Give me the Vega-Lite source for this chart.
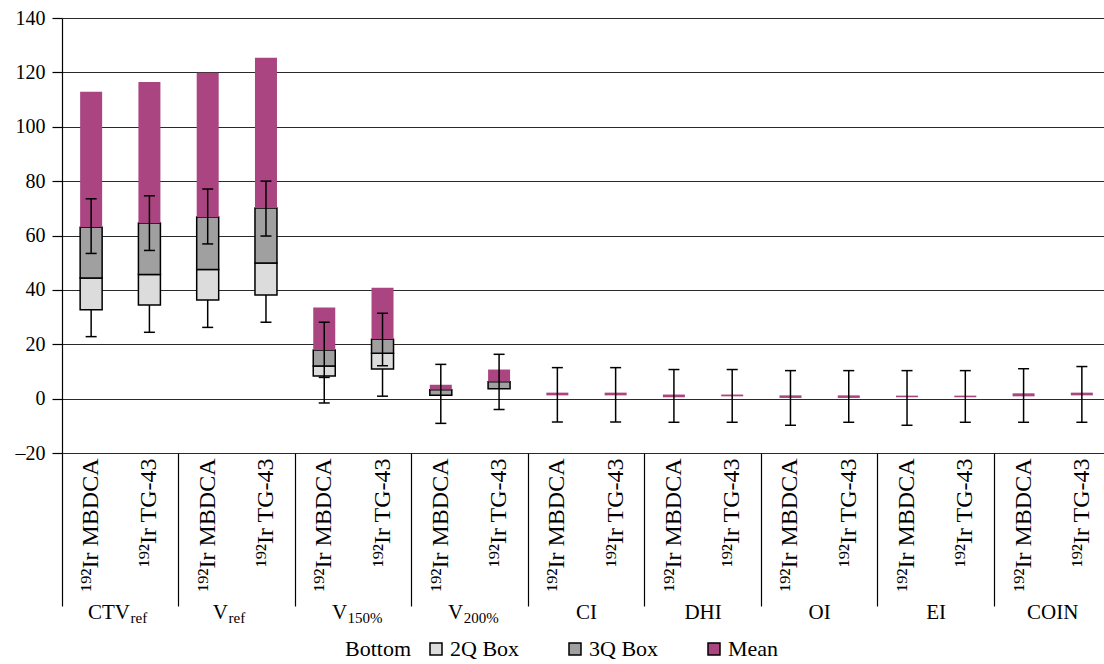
{
  "$schema": "https://vega.github.io/schema/vega-lite/v6.json",
  "autosize": {"type": "none"},
  "width": 1049,
  "height": 435,
  "padding": {"left": 62, "top": 18, "right": -7, "bottom": 211},
  "background": "white",
  "config": {
    "view": {"stroke": null}
  },
  "datasets": {
    "bars": [
      {"bar": "CTVref MBDCA", "series": "2Q Box", "lo": 32.7, "hi": 44.4},
      {"bar": "CTVref MBDCA", "series": "3Q Box", "lo": 44.4, "hi": 63.0},
      {"bar": "CTVref MBDCA", "series": "Mean", "lo": 63.0, "hi": 112.9},
      {"bar": "CTVref TG-43", "series": "2Q Box", "lo": 34.4, "hi": 45.7},
      {"bar": "CTVref TG-43", "series": "3Q Box", "lo": 45.7, "hi": 64.6},
      {"bar": "CTVref TG-43", "series": "Mean", "lo": 64.6, "hi": 116.5},
      {"bar": "Vref MBDCA", "series": "2Q Box", "lo": 36.3, "hi": 47.5},
      {"bar": "Vref MBDCA", "series": "3Q Box", "lo": 47.5, "hi": 66.8},
      {"bar": "Vref MBDCA", "series": "Mean", "lo": 66.8, "hi": 119.9},
      {"bar": "Vref TG-43", "series": "2Q Box", "lo": 38.1, "hi": 49.9},
      {"bar": "Vref TG-43", "series": "3Q Box", "lo": 49.9, "hi": 70.1},
      {"bar": "Vref TG-43", "series": "Mean", "lo": 70.1, "hi": 125.4},
      {"bar": "V150% MBDCA", "series": "2Q Box", "lo": 8.3, "hi": 12.0},
      {"bar": "V150% MBDCA", "series": "3Q Box", "lo": 12.0, "hi": 17.9},
      {"bar": "V150% MBDCA", "series": "Mean", "lo": 17.9, "hi": 33.5},
      {"bar": "V150% TG-43", "series": "2Q Box", "lo": 10.9, "hi": 16.7},
      {"bar": "V150% TG-43", "series": "3Q Box", "lo": 16.7, "hi": 21.8},
      {"bar": "V150% TG-43", "series": "Mean", "lo": 21.8, "hi": 40.8},
      {"bar": "V200% MBDCA", "series": "3Q Box", "lo": 1.2, "hi": 3.3},
      {"bar": "V200% MBDCA", "series": "Mean", "lo": 3.3, "hi": 5.1},
      {"bar": "V200% TG-43", "series": "3Q Box", "lo": 3.6, "hi": 6.25},
      {"bar": "V200% TG-43", "series": "Mean", "lo": 6.25, "hi": 10.7},
      {"bar": "CI MBDCA", "series": "Mean", "lo": 1.2, "hi": 2.2},
      {"bar": "CI TG-43", "series": "Mean", "lo": 1.2, "hi": 2.2},
      {"bar": "DHI MBDCA", "series": "Mean", "lo": 0.5, "hi": 1.5},
      {"bar": "DHI TG-43", "series": "Mean", "lo": 0.85, "hi": 1.5},
      {"bar": "OI MBDCA", "series": "Mean", "lo": 0.25, "hi": 1.2},
      {"bar": "OI TG-43", "series": "Mean", "lo": 0.25, "hi": 1.2},
      {"bar": "EI MBDCA", "series": "Mean", "lo": 0.5, "hi": 1.1},
      {"bar": "EI TG-43", "series": "Mean", "lo": 0.5, "hi": 1.1},
      {"bar": "COIN MBDCA", "series": "Mean", "lo": 0.85, "hi": 1.95},
      {"bar": "COIN TG-43", "series": "Mean", "lo": 1.2, "hi": 2.2}
    ],
    "whiskers": [
      {"bar": "CTVref MBDCA", "lo": 53.4, "hi": 73.5},
      {"bar": "CTVref MBDCA", "lo": 22.8, "hi": 32.7},
      {"bar": "CTVref TG-43", "lo": 54.5, "hi": 74.6},
      {"bar": "CTVref TG-43", "lo": 24.4, "hi": 34.4},
      {"bar": "Vref MBDCA", "lo": 56.9, "hi": 77.1},
      {"bar": "Vref MBDCA", "lo": 26.2, "hi": 36.3},
      {"bar": "Vref TG-43", "lo": 59.8, "hi": 80.0},
      {"bar": "Vref TG-43", "lo": 28.1, "hi": 38.1},
      {"bar": "V150% MBDCA", "lo": 7.8, "hi": 28.1},
      {"bar": "V150% MBDCA", "lo": -1.6, "hi": 8.3},
      {"bar": "V150% TG-43", "lo": 12.1, "hi": 31.4},
      {"bar": "V150% TG-43", "lo": 0.9, "hi": 10.9},
      {"bar": "V200% MBDCA", "lo": -9.1, "hi": 12.6},
      {"bar": "V200% TG-43", "lo": -4.0, "hi": 16.3},
      {"bar": "CI MBDCA", "lo": -8.6, "hi": 11.4},
      {"bar": "CI TG-43", "lo": -8.6, "hi": 11.4},
      {"bar": "DHI MBDCA", "lo": -8.7, "hi": 10.7},
      {"bar": "DHI TG-43", "lo": -8.7, "hi": 10.7},
      {"bar": "OI MBDCA", "lo": -9.8, "hi": 10.3},
      {"bar": "OI TG-43", "lo": -8.7, "hi": 10.3},
      {"bar": "EI MBDCA", "lo": -9.8, "hi": 10.3},
      {"bar": "EI TG-43", "lo": -8.7, "hi": 10.3},
      {"bar": "COIN MBDCA", "lo": -8.7, "hi": 11.0},
      {"bar": "COIN TG-43", "lo": -8.7, "hi": 11.8}
    ],
    "caps": [
      {"bar": "CTVref MBDCA", "y": 53.4}, {"bar": "CTVref MBDCA", "y": 73.5}, {"bar": "CTVref MBDCA", "y": 22.8},
      {"bar": "CTVref TG-43", "y": 54.5}, {"bar": "CTVref TG-43", "y": 74.6}, {"bar": "CTVref TG-43", "y": 24.4},
      {"bar": "Vref MBDCA", "y": 56.9}, {"bar": "Vref MBDCA", "y": 77.1}, {"bar": "Vref MBDCA", "y": 26.2},
      {"bar": "Vref TG-43", "y": 59.8}, {"bar": "Vref TG-43", "y": 80.0}, {"bar": "Vref TG-43", "y": 28.1},
      {"bar": "V150% MBDCA", "y": 7.8}, {"bar": "V150% MBDCA", "y": 28.1}, {"bar": "V150% MBDCA", "y": -1.6},
      {"bar": "V150% TG-43", "y": 12.1}, {"bar": "V150% TG-43", "y": 31.4}, {"bar": "V150% TG-43", "y": 0.9},
      {"bar": "V200% MBDCA", "y": -9.1}, {"bar": "V200% MBDCA", "y": 12.6},
      {"bar": "V200% TG-43", "y": -4.0}, {"bar": "V200% TG-43", "y": 16.3},
      {"bar": "CI MBDCA", "y": -8.6}, {"bar": "CI MBDCA", "y": 11.4},
      {"bar": "CI TG-43", "y": -8.6}, {"bar": "CI TG-43", "y": 11.4},
      {"bar": "DHI MBDCA", "y": -8.7}, {"bar": "DHI MBDCA", "y": 10.7},
      {"bar": "DHI TG-43", "y": -8.7}, {"bar": "DHI TG-43", "y": 10.7},
      {"bar": "OI MBDCA", "y": -9.8}, {"bar": "OI MBDCA", "y": 10.3},
      {"bar": "OI TG-43", "y": -8.7}, {"bar": "OI TG-43", "y": 10.3},
      {"bar": "EI MBDCA", "y": -9.8}, {"bar": "EI MBDCA", "y": 10.3},
      {"bar": "EI TG-43", "y": -8.7}, {"bar": "EI TG-43", "y": 10.3},
      {"bar": "COIN MBDCA", "y": -8.7}, {"bar": "COIN MBDCA", "y": 11.0},
      {"bar": "COIN TG-43", "y": -8.7}, {"bar": "COIN TG-43", "y": 11.8}
    ],
    "groups": [
      {"group": "CTVref"}, {"group": "Vref"}, {"group": "V150%"}, {"group": "V200%"},
      {"group": "CI"}, {"group": "DHI"}, {"group": "OI"}, {"group": "EI"}, {"group": "COIN"}
    ]
  },
  "resolve": {"scale": {"x": "independent"}, "axis": {"x": "independent"}},
  "layer": [
    {
      "encoding": {
        "x": {
          "field": "bar", "type": "nominal",
          "scale": {
            "domain": ["CTVref MBDCA", "CTVref TG-43", "Vref MBDCA", "Vref TG-43", "V150% MBDCA", "V150% TG-43", "V200% MBDCA", "V200% TG-43", "CI MBDCA", "CI TG-43", "DHI MBDCA", "DHI TG-43", "OI MBDCA", "OI TG-43", "EI MBDCA", "EI TG-43", "COIN MBDCA", "COIN TG-43"],
            "paddingInner": 0, "paddingOuter": 0
          },
          "axis": {
            "orient": "bottom", "title": null, "domain": false, "ticks": false, "grid": false,
            "labelAngle": -90, "labelFont": "Liberation Serif", "labelFontSize": 24, "labelColor": "black", "labelPadding": 5, "labelOverlap": false,
            "labelExpr": "indexof(datum.value, 'MBDCA') >= 0 ? '¹⁹²Ir MBDCA' : '¹⁹²Ir TG-43'"
          }
        }
      },
      "layer": [
        {
          "data": {"name": "bars"},
          "mark": {"type": "bar", "size": 22, "strokeWidth": 1.5},
          "encoding": {
            "y": {
              "field": "lo", "type": "quantitative",
              "scale": {"domain": [-20, 140], "nice": false},
              "axis": {
                "title": null, "values": [-20, 0, 20, 40, 60, 80, 100, 120, 140],
                "labelFont": "Liberation Serif", "labelFontSize": 20, "labelColor": "black", "labelPadding": 7,
                "tickSize": 10, "tickColor": "black", "tickWidth": 1.2,
                "domainColor": "black", "domainWidth": 1.2, "gridColor": "#2a2a2a", "gridWidth": 1.1, "gridOpacity": 1,
                "labelExpr": "datum.value < 0 ? '–' + abs(datum.value) : datum.label"
              }
            },
            "y2": {"field": "hi"},
            "color": {
              "field": "series", "type": "nominal",
              "scale": {"domain": ["2Q Box", "3Q Box", "Mean"], "range": ["#dcdcdc", "#a0a0a0", "#aa4581"]},
              "legend": {
                "orient": "none", "legendX": 283, "legendY": 620, "direction": "horizontal",
                "title": "Bottom", "titleOrient": "left", "titleFont": "Liberation Serif", "titleFontSize": 22, "titleFontWeight": "normal", "titleColor": "black",
                "titlePadding": 13, "titleBaseline": "middle",
                "labelFont": "Liberation Serif", "labelFontSize": 22, "labelColor": "black", "labelOffset": 3,
                "symbolType": "square", "symbolSize": 144, "symbolOpacity": 1, "columnPadding": 44,
                "encode": {
                  "symbols": {"update": {"stroke": {"signal": "datum.value === 'Mean' ? 'transparent' : 'black'"}, "strokeWidth": {"value": 1.5}}}
                }
              }
            },
            "stroke": {"condition": {"test": "datum.series === 'Mean'", "value": "transparent"}, "value": "black"}
          }
        },
        {
          "data": {"name": "whiskers"},
          "mark": {"type": "rule", "color": "black", "strokeWidth": 1.5},
          "encoding": {
            "y": {"field": "lo", "type": "quantitative"},
            "y2": {"field": "hi"}
          }
        },
        {
          "data": {"name": "caps"},
          "mark": {"type": "tick", "color": "black", "size": 11, "thickness": 1.5, "opacity": 1},
          "encoding": {
            "y": {"field": "y", "type": "quantitative"}
          }
        }
      ]
    },
    {
      "data": {"name": "groups"},
      "mark": {"type": "rule", "strokeOpacity": 0},
      "encoding": {
        "x": {
          "field": "group", "type": "nominal", "sort": null,
          "scale": {"domain": ["CTVref", "Vref", "V150%", "V200%", "CI", "DHI", "OI", "EI", "COIN"], "paddingInner": 0, "paddingOuter": 0},
          "axis": {
            "orient": "bottom", "title": null, "domain": false, "grid": false,
            "ticks": true, "tickSize": 153, "tickColor": "black", "tickWidth": 1.2, "bandPosition": 0,
            "labelFont": "Liberation Serif", "labelFontSize": 21, "labelColor": "black", "labelBaseline": "alphabetic", "labelPadding": 12, "labelOverlap": false, "labelAngle": 0,
            "labelAlign": {"condition": {"test": "datum.value === 'CTVref' || datum.value === 'Vref' || datum.value === 'V150%' || datum.value === 'V200%'", "value": "right"}, "value": "center"},
            "labelOffset": {"condition": [
              {"test": "datum.value === 'CTVref'", "value": 9.7},
              {"test": "datum.value === 'Vref'", "value": -8.8},
              {"test": "datum.value === 'V150%'", "value": -6.3},
              {"test": "datum.value === 'V200%'", "value": -6.8}
            ], "value": 0},
            "labelExpr": "datum.value === 'CTVref' ? 'CTV' : (datum.value === 'Vref' || datum.value === 'V150%' || datum.value === 'V200%') ? 'V' : datum.value"
          }
        }
      }
    },
    {
      "data": {"name": "groups"},
      "mark": {"type": "rule", "strokeOpacity": 0},
      "encoding": {
        "x": {
          "field": "group", "type": "nominal", "sort": null,
          "scale": {"domain": ["CTVref", "Vref", "V150%", "V200%", "CI", "DHI", "OI", "EI", "COIN"], "paddingInner": 0, "paddingOuter": 0},
          "axis": {
            "orient": "bottom", "title": null, "domain": false, "grid": false, "ticks": false, "bandPosition": 0,
            "labelFont": "Liberation Serif", "labelFontSize": 15, "labelColor": "black", "labelBaseline": "alphabetic", "labelPadding": 169, "labelOverlap": false, "labelAngle": 0,
            "labelAlign": "left",
            "labelOffset": {"condition": [
              {"test": "datum.value === 'CTVref'", "value": 10.2},
              {"test": "datum.value === 'Vref'", "value": -8.3},
              {"test": "datum.value === 'V150%'", "value": -5.8},
              {"test": "datum.value === 'V200%'", "value": -6.3}
            ], "value": 0},
            "labelExpr": "(datum.value === 'CTVref' || datum.value === 'Vref') ? 'ref' : datum.value === 'V150%' ? '150%' : datum.value === 'V200%' ? '200%' : ''"
          }
        }
      }
    }
  ]
}
